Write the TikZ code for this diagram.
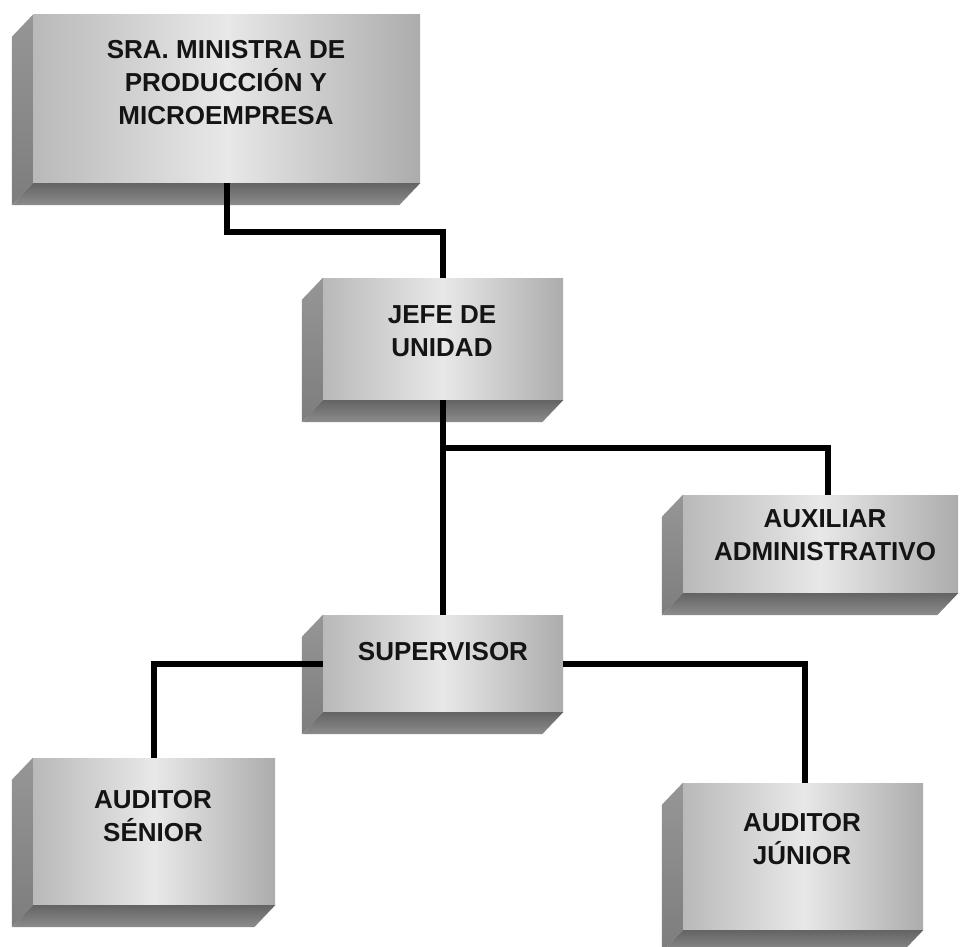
\documentclass[tikz,border=0pt]{standalone}
\usepackage{fontspec}
\setmainfont{Liberation Sans}
\usetikzlibrary{calc}
\definecolor{frontleft}{RGB}{185,185,185}
\definecolor{frontright}{RGB}{172,172,172}
\definecolor{frontmid}{RGB}{232,232,232}
\definecolor{sidetop}{RGB}{150,150,150}
\definecolor{sidebot}{RGB}{125,125,125}
\definecolor{bottop}{RGB}{100,100,100}
\definecolor{botbot}{RGB}{140,140,140}
\definecolor{txt}{RGB}{20,20,20}
\tikzset{
  front/.style={rectangle, inner sep=0pt, draw=none, left color=frontleft, right color=frontright, middle color=frontmid},
  lefts/.style={draw=none, top color=sidetop, bottom color=sidebot},
  bots/.style={draw=none, top color=bottop, bottom color=botbot},
  lbl/.style={font=\bfseries\fontsize{26}{33}\selectfont, align=center, text=txt, inner sep=0pt},
  conn/.style={line width=6pt, black}
}
\newcommand\bevelsides[1]{%
  \path[lefts] (#1.north west) -- ++(-21,22) -- ($(#1.south west)+(-21,22)$) -- (#1.south west) -- cycle;
  \path[bots] (#1.south west) -- ++(-21,22) -- ($(#1.south east)+(-21,22)$) -- (#1.south east) -- cycle;
}
\begin{document}
\begin{tikzpicture}[x=1pt,y=-1pt]
\useasboundingbox[fill=white] (0,0) rectangle (961,947);
% front faces
\node[front, minimum width=387, minimum height=168] (m) at (226.5,99) {};
\node[front, minimum width=240, minimum height=122] (j) at (443,339) {};
\node[front, minimum width=240, minimum height=97] (s) at (443,663.5) {};
\node[front, minimum width=275, minimum height=98] (a) at (820.5,544) {};
\node[front, minimum width=242, minimum height=147] (sr) at (154,831.5) {};
\node[front, minimum width=240, minimum height=147] (jr) at (803,856.5) {};
\bevelsides{m}
\bevelsides{j}
\bevelsides{s}
\bevelsides{a}
\bevelsides{sr}
\bevelsides{jr}
% connectors
\draw[conn] (m.south) -- ++(0,49) -| (j.north);
\draw[conn] (j.south) -- (s.north);
\coordinate (br) at ($(j.south)+(0,48)$);
\draw[conn] (br) -| ([xshift=7pt]a.north);
\draw[conn] (s.west) -| (sr.north);
\draw[conn] (s.east) -| ([xshift=2pt]jr.north);
% labels
\node[lbl] (mt) at (226,83) {SRA. MINISTRA DE\\PRODUCCIÓN Y\\MICROEMPRESA};
\node[lbl] (jt) at (442,331) {JEFE DE\\UNIDAD};
\node[lbl] (st) at (443,652) {SUPERVISOR};
\node[lbl] (at) at (825,535) {AUXILIAR\\ADMINISTRATIVO};
\node[lbl] (srt) at (153,816) {AUDITOR\\SÉNIOR};
\node[lbl] (jrt) at (802,839) {AUDITOR\\JÚNIOR};
\end{tikzpicture}
\end{document}
